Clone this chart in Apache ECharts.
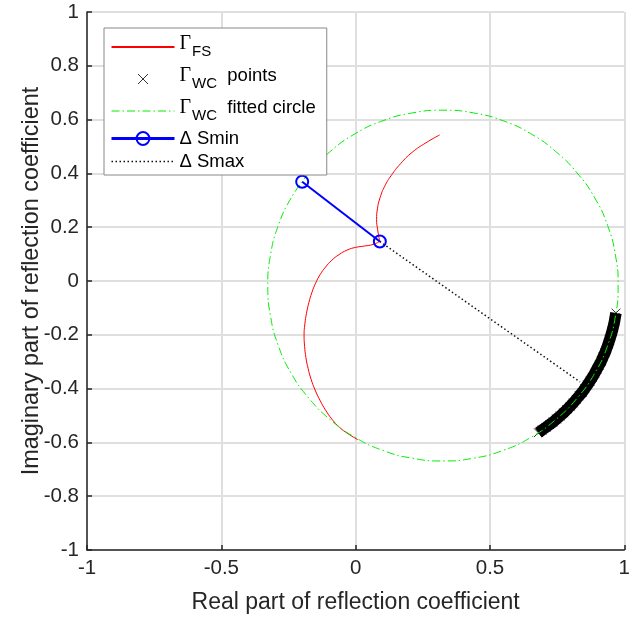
<!DOCTYPE html>
<html><head><meta charset="utf-8">
<script src="https://cdn.jsdelivr.net/npm/echarts@6/dist/echarts.min.js"></script>
<style>html,body{margin:0;padding:0;background:#fff}#c{width:633px;height:619px}</style>
</head><body><div id="c"></div>
<script>
// axis ranges / tick steps
const xRange = [-1, 1], xStep = 0.5;
const yRange = [-1, 1], yStep = 0.2;

// Gamma_FS trajectory (two branches meeting at the Delta-S point)
const fsUpper = [[0.313,0.543],[0.262,0.514],[0.210,0.478],[0.167,0.436],[0.133,0.393],[0.108,0.352],[0.091,0.310],[0.081,0.268],[0.078,0.228],[0.082,0.190],[0.090,0.147]];
const fsLower = [[0.090,0.147],[0.065,0.136],[0.033,0.130],[0.000,0.125],[-0.032,0.115],[-0.062,0.098],[-0.089,0.077],[-0.112,0.052],[-0.132,0.024],[-0.149,-0.008],[-0.163,-0.043],[-0.174,-0.080],[-0.183,-0.120],[-0.189,-0.160],[-0.192,-0.201],[-0.190,-0.243],[-0.185,-0.285],[-0.177,-0.325],[-0.166,-0.365],[-0.151,-0.405],[-0.133,-0.443],[-0.112,-0.480],[-0.088,-0.514],[-0.060,-0.544],[-0.028,-0.568],[0.008,-0.590]];

// Gamma_WC measured points (dense band)
const wcPoints = [[0.680,-0.564],[0.694,-0.554],[0.708,-0.544],[0.722,-0.534],[0.735,-0.524],[0.748,-0.513],[0.761,-0.502],[0.774,-0.490],[0.786,-0.478],[0.798,-0.466],[0.810,-0.453],[0.821,-0.440],[0.832,-0.427],[0.843,-0.414],[0.853,-0.400],[0.863,-0.386],[0.872,-0.372],[0.881,-0.358],[0.890,-0.343],[0.898,-0.328],[0.906,-0.313],[0.914,-0.298],[0.921,-0.282],[0.928,-0.267],[0.934,-0.251],[0.940,-0.235],[0.945,-0.219],[0.950,-0.203],[0.955,-0.186],[0.959,-0.170],[0.963,-0.153],[0.966,-0.136],[0.969,-0.119]];

// Gamma_WC fitted circle (points read along the circle)
const wcCircle = [[-0.174,0.402],[-0.240,0.309],[-0.288,0.206],[-0.317,0.096],[-0.327,-0.017],[-0.317,-0.130],[-0.288,-0.240],[-0.240,-0.343],[-0.174,-0.436],[-0.094,-0.516],[-0.001,-0.582],[0.102,-0.630],[0.212,-0.659],[0.325,-0.669],[0.438,-0.659],[0.548,-0.630],[0.651,-0.582],[0.744,-0.516],[0.824,-0.436],[0.890,-0.343],[0.938,-0.240],[0.967,-0.130],[0.977,-0.017],[0.967,0.096],[0.938,0.206],[0.890,0.309],[0.824,0.402],[0.744,0.482],[0.651,0.548],[0.548,0.596],[0.438,0.625],[0.325,0.635],[0.212,0.625],[0.102,0.596],[-0.001,0.548],[-0.094,0.482],[-0.174,0.402]];

// Delta S min / max segments
const dSmin = [[0.090,0.147],[-0.199,0.369]];
const dSmax = [[0.090,0.147],[0.835,-0.375]];

const names = ['ΓFS','ΓWC points','ΓWC fitted circle','ΔSmin','ΔSmax'];
const labels = {
  'ΓFS': '{g|Γ}{s|FS}',
  'ΓWC points': '{g|Γ}{s|WC}{tp|  points}',
  'ΓWC fitted circle': '{g|Γ}{s|WC}{tp|  fitted circle}',
  'ΔSmin': '{t|Δ Smin}',
  'ΔSmax': '{t|Δ Smax}'
};

const axisColor = '#262626';
const FONT = 'Liberation Sans';
const xMark = 'path://M-3,-3M13,13M0,0L10,10M10,0L0,10';
const hidden = {opacity: 0};

const chart = echarts.init(document.getElementById('c'), null, {renderer: 'canvas'});
chart.setOption({
  animation: false,
  backgroundColor: '#fff',
  textStyle: {fontFamily: FONT},
  grid: {left: 87, right: 7, top: 12, bottom: 67, containLabel: false},
  xAxis: {
    type: 'value', min: xRange[0], max: xRange[1], interval: xStep,
    name: 'Real part of reflection coefficient', nameLocation: 'middle', nameGap: 41, nameMoveOverlap: false,
    nameTextStyle: {fontSize: 23, color: axisColor, fontFamily: FONT},
    axisLine: {show: true, onZero: false, lineStyle: {color: axisColor, width: 1.5}},
    axisTick: {show: true, inside: true, length: 5, lineStyle: {color: axisColor, width: 1.5}},
    axisLabel: {fontSize: 20.5, color: axisColor, margin: 8, fontFamily: FONT},
    splitLine: {show: true, lineStyle: {color: '#dfdfdf', width: 2}}
  },
  yAxis: {
    type: 'value', min: yRange[0], max: yRange[1], interval: yStep,
    name: 'Imaginary part of reflection coefficient', nameLocation: 'middle', nameGap: 44, nameMoveOverlap: false,
    nameTextStyle: {fontSize: 23.4, color: axisColor, fontFamily: FONT},
    axisLine: {show: true, onZero: false, lineStyle: {color: axisColor, width: 1.5}},
    axisTick: {show: true, inside: true, length: 5, lineStyle: {color: axisColor, width: 1.5}},
    axisLabel: {fontSize: 20.5, color: axisColor, margin: 8, fontFamily: FONT},
    splitLine: {show: true, lineStyle: {color: '#dfdfdf', width: 2}}
  },
  legend: {
    orient: 'vertical', left: 104, top: 28,
    padding: [5, 11, 4, 6], itemGap: 4, itemWidth: 63, itemHeight: 16,
    backgroundColor: '#fff', borderColor: '#888', borderWidth: 1,
    selectedMode: false,
    data: [
      {name: names[0], lineStyle: {width: 2}, itemStyle: hidden},
      {name: names[1], itemStyle: {borderWidth: 1}},
      {name: names[2], lineStyle: {width: 1}, itemStyle: hidden},
      {name: names[3], lineStyle: {width: 3}, itemStyle: {borderWidth: 2}},
      {name: names[4], lineStyle: {width: 1.5}, itemStyle: hidden}
    ],
    formatter: n => labels[n],
    textStyle: {
      color: '#000', fontFamily: FONT,
      rich: {
        g: {fontFamily: 'Liberation Serif', fontSize: 20, lineHeight: 20, padding: [1, 1, 7, 0], color: '#000'},
        s: {fontFamily: FONT, fontSize: 15, lineHeight: 14, padding: [11, 0, 1, 0], color: '#000'},
        tp: {fontFamily: FONT, fontSize: 18.5, lineHeight: 20, padding: [1, 0, 7, 0], color: '#000'},
        t: {fontFamily: FONT, fontSize: 18.5, lineHeight: 15, color: '#000'}
      }
    }
  },
  series: [
    {name: names[0], type: 'line', data: fsUpper, smooth: true, showSymbol: false, symbol: 'none',
     lineStyle: {color: '#ff0000', width: 1}, itemStyle: {color: '#ff0000'}},
    {name: names[0], type: 'line', data: fsLower, smooth: true, showSymbol: false, symbol: 'none',
     lineStyle: {color: '#ff0000', width: 1}, itemStyle: {color: '#ff0000'}},
    {name: 'band', type: 'line', data: wcPoints, smooth: true, symbol: 'none', legendHoverLink: false,
     lineStyle: {color: '#000', width: 11.5, cap: 'butt'}, itemStyle: {color: '#000'}},
    {name: names[1], type: 'scatter', data: wcPoints, symbol: xMark, symbolSize: 14,
     itemStyle: {color: '#000', borderColor: '#000', borderWidth: 1}},
    {name: names[2], type: 'line', data: wcCircle, smooth: true, symbol: 'none',
     lineStyle: {color: '#00ee00', width: 1, type: [8, 3, 1.5, 3]}, itemStyle: {color: '#00ee00'}},
    {name: names[3], type: 'line', data: dSmin, symbol: 'circle', symbolSize: 12, showSymbol: true,
     lineStyle: {color: '#0000ff', width: 2},
     itemStyle: {color: 'rgba(0,0,0,0)', borderColor: '#0000ff', borderWidth: 2}},
    {name: names[4], type: 'line', data: dSmax, symbol: 'none',
     lineStyle: {color: '#111', width: 1.5, type: [1.5, 2.5]}, itemStyle: {color: '#111'}}
  ]
});
</script></body></html>
